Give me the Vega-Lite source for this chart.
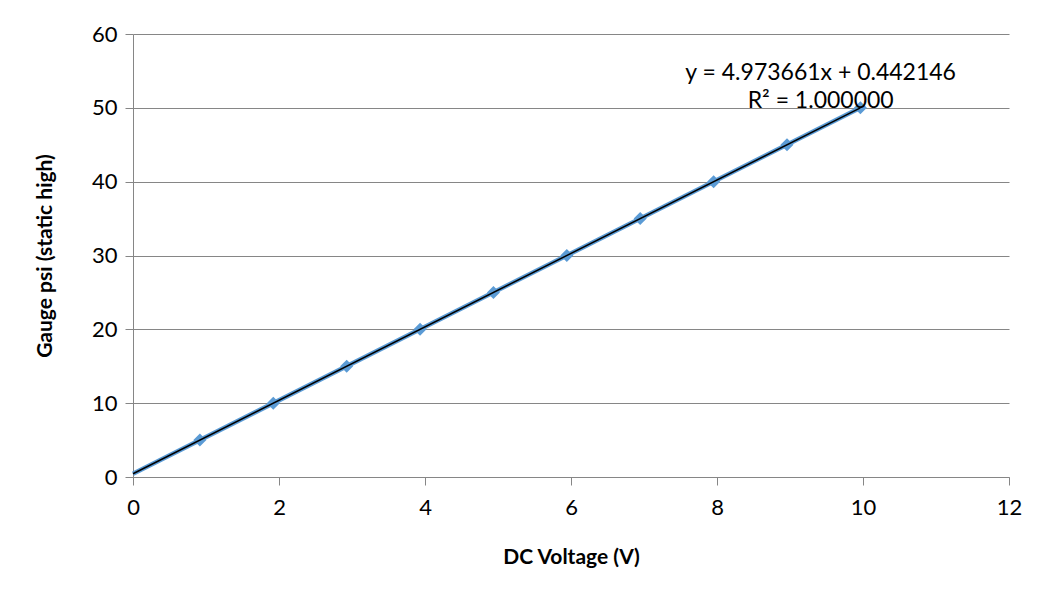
{
  "$schema": "https://vega.github.io/schema/vega-lite/v6.json",
  "width": 876,
  "height": 443,
  "autosize": {"type": "none"},
  "padding": {"left": 133, "top": 34, "right": 30, "bottom": 120},
  "background": "white",
  "config": {
    "font": "Lato",
    "view": {"stroke": null},
    "axis": {
      "labelFont": "Lato",
      "titleFont": "Lato",
      "labelFontSize": 22,
      "titleFontSize": 21,
      "labelColor": "#000000",
      "titleColor": "#000000",
      "titleFontWeight": "bold",
      "domainColor": "#868686",
      "tickColor": "#868686",
      "gridColor": "#868686",
      "tickSize": 8,
      "labelFlush": false
    }
  },
  "datasets": {
    "pts": [
      {"v": 0.9164, "psi": 5},
      {"v": 1.9217, "psi": 10},
      {"v": 2.9270, "psi": 15},
      {"v": 3.9323, "psi": 20},
      {"v": 4.9376, "psi": 25},
      {"v": 5.9429, "psi": 30},
      {"v": 6.9482, "psi": 35},
      {"v": 7.9535, "psi": 40},
      {"v": 8.9588, "psi": 45},
      {"v": 9.9641, "psi": 50}
    ],
    "trend": [
      {"v": 0, "psi": 0.442146},
      {"v": 9.9641, "psi": 50.0}
    ],
    "labels": [
      {"v": 9.42, "psi": 54.7, "t": "y = 4.973661x + 0.442146"},
      {"v": 9.42, "psi": 50.9, "t": "R² = 1.000000"}
    ]
  },
  "layer": [
    {
      "data": {"name": "trend"},
      "mark": {"type": "line", "color": "#5B9BD5", "strokeWidth": 4.5},
      "encoding": {
        "x": {"field": "v", "type": "quantitative", "scale": {"domain": [0, 12], "nice": false},
          "axis": {"title": "DC Voltage (V)", "values": [0, 2, 4, 6, 8, 10, 12], "format": "d", "grid": false, "labelPadding": 12, "titlePadding": 28}},
        "y": {"field": "psi", "type": "quantitative", "scale": {"domain": [0, 60], "nice": false},
          "axis": {"title": "Gauge psi (static high)", "values": [0, 10, 20, 30, 40, 50, 60], "format": "d", "grid": true, "labelPadding": 8, "titlePadding": 36}}
      }
    },
    {
      "data": {"name": "pts"},
      "mark": {"type": "point", "shape": "diamond", "filled": true, "color": "#5B9BD5", "size": 170, "opacity": 1},
      "encoding": {
        "x": {"field": "v", "type": "quantitative"},
        "y": {"field": "psi", "type": "quantitative"}
      }
    },
    {
      "data": {"name": "trend"},
      "mark": {"type": "line", "color": "#000000", "strokeWidth": 1.5},
      "encoding": {
        "x": {"field": "v", "type": "quantitative"},
        "y": {"field": "psi", "type": "quantitative"}
      }
    },
    {
      "data": {"name": "labels"},
      "mark": {"type": "text", "font": "Lato", "fontSize": 23, "color": "#000000", "align": "center", "baseline": "middle"},
      "encoding": {
        "x": {"field": "v", "type": "quantitative"},
        "y": {"field": "psi", "type": "quantitative"},
        "text": {"field": "t"}
      }
    }
  ]
}
